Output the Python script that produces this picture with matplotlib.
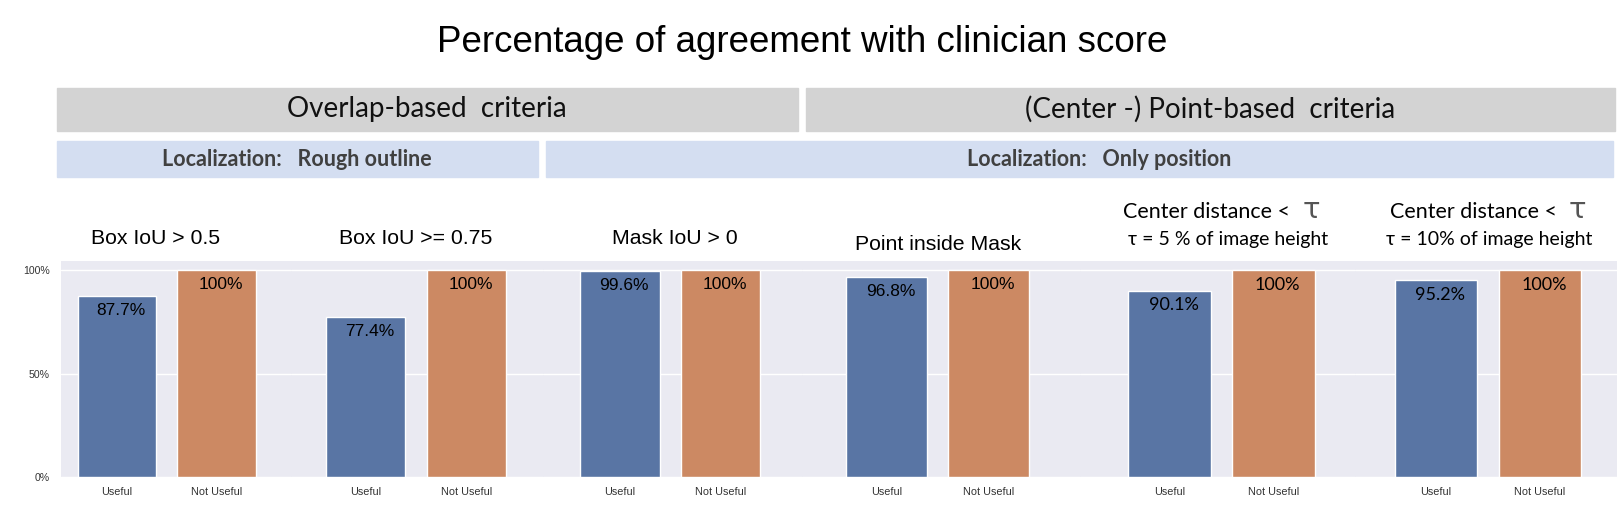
import matplotlib
matplotlib.use('Agg')
import matplotlib.pyplot as plt
import seaborn as sns
from matplotlib.patches import Rectangle

# data
criteria = ['Box IoU > 0.5', 'Box IoU >= 0.75', 'Mask IoU > 0', 'Point inside Mask',
            'Center distance <', 'Center distance <']
subtitles = ['', '', '', '', '\u03c4 = 5 % of image height', '\u03c4 = 10% of image height']
groups = ['Useful', 'Not Useful']
useful = [87.7, 77.4, 99.6, 96.8, 90.1, 95.2]
not_useful = [100, 100, 100, 100, 100, 100]
yticks = [0, 50, 100]
ytick_labels = ['0%', '50%', '100%']

sns.set_theme(style='darkgrid')
plt.rcParams['font.family'] = ['Liberation Sans', 'DejaVu Sans']
calibri = ['Lato', 'Open Sans', 'DejaVu Sans']

W, H = 1623, 509
fig = plt.figure(figsize=(W / 100, H / 100), dpi=100)

def fx(px):
    return px / W

def fy(py):
    return 1 - py / H

# title
fig.text(fx(802), fy(42), 'Percentage of agreement with clinician score',
         ha='center', va='center', fontsize=26.5, color='black')

# header boxes (left, right, top, bottom in pixels)
headers = [(57, 798, 88, 131, '#d3d3d3', 'Overlap-based  criteria', 427, 20, 'normal', '#111111'),
           (806, 1615, 88, 131, '#d3d3d3', '(Center -) Point-based  criteria', 1210, 20, 'normal', '#111111'),
           (57, 538, 141, 177, '#d4def1', 'Localization:   Rough outline', 297, 15.5, 'bold', '#404040'),
           (546, 1613, 141, 177, '#d4def1', 'Localization:   Only position', 1099, 15.5, 'bold', '#404040')]
for l, r, t, b, col, txt, tx, fs, fw, tc in headers:
    fig.patches.append(Rectangle((fx(l), fy(b)), fx(r - l), (b - t) / H,
                                 transform=fig.transFigure, color=col, zorder=0))
    fig.text(fx(tx), fy((t + b) / 2), txt, ha='center', va='center', fontsize=fs,
             fontweight=fw, color=tc, family=calibri)

# panel layout in pixels
bounds = [61, 291, 543, 802, 1080, 1355, 1617]
ax_top, ax_bottom = 261, 477
xlims = [(-0.563, 1.749), (-0.738, 1.757), (-0.766, 1.811),
         (-0.824, 1.888), (-0.861, 1.784), (-0.779, 1.740)]
title_x = [0.39, 0.5, 0.55, 0.5, 0.36, 0.36]
sub_x = [0.5, 0.5, 0.5, 0.5, 0.56, 0.51]
title_y = [239, 239, 239, 245, 212, 212]

colors = ['#5975a4', '#cc8963']
tau_texts = []

def to_fig_x(i, xd):
    return fx(bounds[i]) + fx(bounds[i + 1] - bounds[i]) * (xd - xlims[i][0]) / (xlims[i][1] - xlims[i][0])

for i in range(6):
    ax = fig.add_axes([fx(bounds[i]), fy(ax_bottom), fx(bounds[i + 1] - bounds[i]),
                       (ax_bottom - ax_top) / H])
    vals = [useful[i], not_useful[i]]
    ax.bar([0, 1], vals, width=0.79, color=colors, edgecolor='white', linewidth=1)
    lab_font = calibri if i >= 4 else ['Liberation Sans']
    for x, v in zip([0, 1], vals):
        ax.annotate(f'{v:g}%', (x + 0.04, v), xytext=(0, -10.5), textcoords='offset points',
                    ha='center', va='center', fontsize=13 if i >= 4 else 12.5,
                    color='black', family=lab_font)
    ax.set_xlim(*xlims[i])
    ax.set_ylim(0, 104.4)
    ax.set_xticks([0, 1])
    ax.set_xticklabels(groups, fontsize=7.8, color='#333333')
    ax.set_yticks(yticks)
    ax.grid(axis='x', visible=False)
    ax.tick_params(axis='x', pad=1.5)
    if i == 0:
        ax.set_yticklabels(ytick_labels, fontsize=7.6, color='#333333')
        ax.tick_params(axis='y', pad=2)
    else:
        ax.set_yticklabels([])
        ax.tick_params(axis='y', length=0)
    for s in ax.spines.values():
        s.set_visible(False)

    if subtitles[i]:
        t = fig.text(to_fig_x(i, title_x[i]), fy(title_y[i]), criteria[i], ha='center',
                     va='center', fontsize=15.5, color='black', family=calibri)
        tau_texts.append(t)
        fig.text(to_fig_x(i, sub_x[i]), fy(title_y[i] + 27), subtitles[i], ha='center',
                 va='center', fontsize=14, color='black', family=calibri)
    else:
        fig.text(to_fig_x(i, title_x[i]), fy(title_y[i]), criteria[i], ha='center',
                 va='center', fontsize=15.3, color='black')

# larger grey tau after "Center distance <"
fig.canvas.draw()
inv = fig.transFigure.inverted()
for t in tau_texts:
    bb = t.get_window_extent()
    x0, y0 = inv.transform((bb.x1 + 12, (bb.y0 + bb.y1) / 2))
    fig.text(x0, y0 + fy(0) - fy(2), '\u03c4', ha='left', va='center', fontsize=21,
             color='#555555', family=['DejaVu Sans'])

fig.savefig('out.png', dpi=100)
